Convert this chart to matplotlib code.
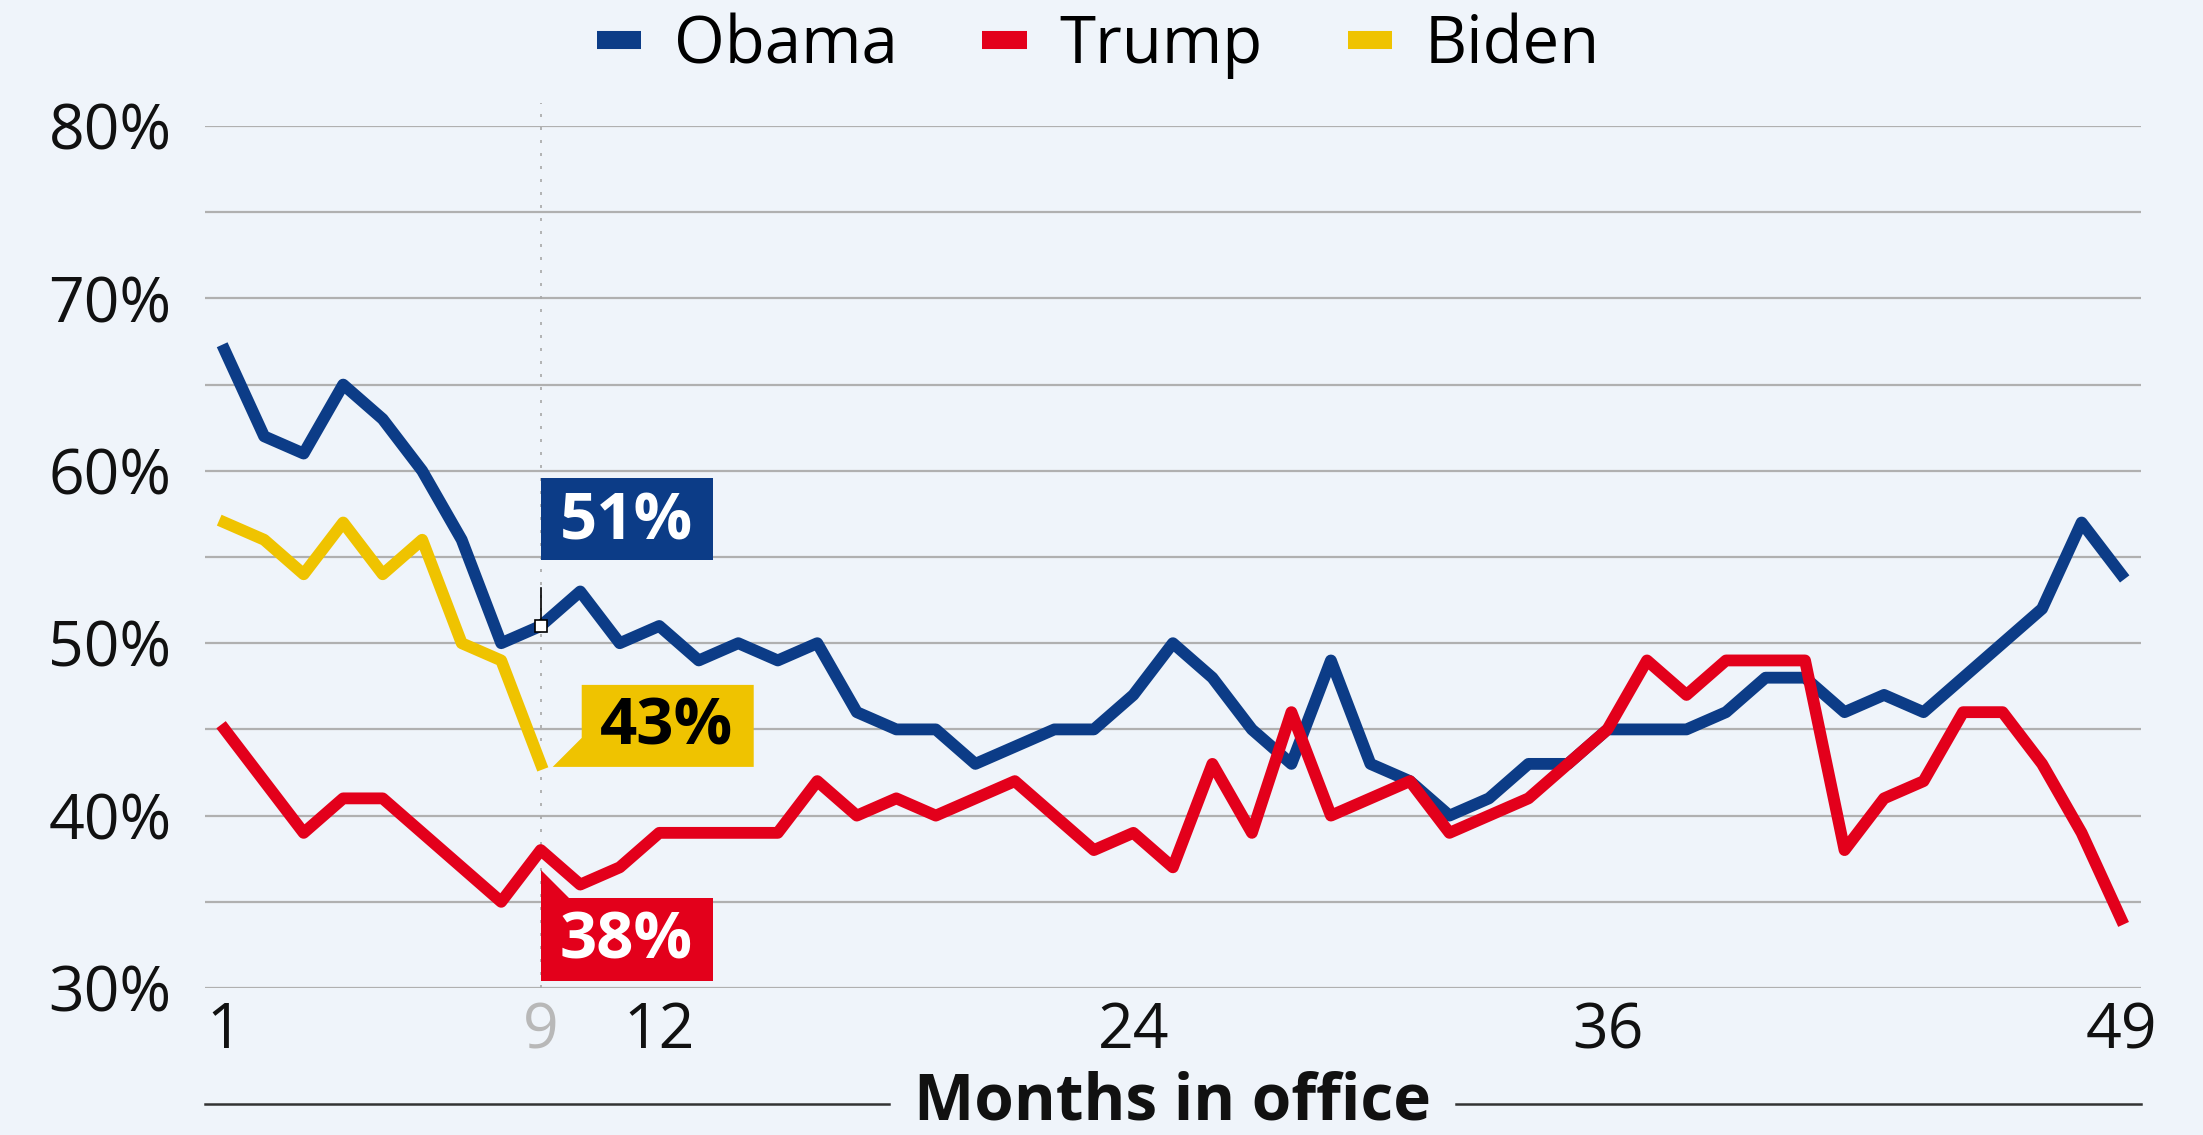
import matplotlib
matplotlib.use("Agg")
import matplotlib.pyplot as plt
import matplotlib.transforms as mtransforms
from matplotlib.patches import Polygon
from matplotlib.lines import Line2D

plt.rcParams['font.family'] = ['Open Sans', 'DejaVu Sans']

# approval ratings by month in office
months = list(range(1, 50))
obama = [67, 62, 61, 65, 63, 60, 56, 50, 51, 53,
         50, 51, 49, 50, 49, 50, 46, 45, 45, 43,
         44, 45, 45, 47, 50, 48, 45, 43, 49, 43,
         42, 40, 41, 43, 43, 45, 45, 45, 46, 48,
         48, 46, 47, 46, 48, 50, 52, 57, 54]
trump = [45, 42, 39, 41, 41, 39, 37, 35, 38, 36,
         37, 39, 39, 39, 39, 42, 40, 41, 40, 41,
         42, 40, 38, 39, 37, 43, 39, 46, 40, 41,
         42, 39, 40, 41, 43, 45, 49, 47, 49, 49,
         49, 38, 41, 42, 46, 46, 43, 39, 34]
biden = [57, 56, 54, 57, 54, 56, 50, 49, 43]
names = ["Obama", "Trump", "Biden"]

xticks = [1, 9, 12, 24, 36, 49]
yticks = [30, 40, 50, 60, 70, 80]
mark_month = 9

BG = '#eff4fa'
BLUE = '#0c3c87'
RED = '#e3001b'
YELLOW = '#efc300'
GRID = '#b0b0b0'

fig = plt.figure(figsize=(22.03, 11.35), dpi=100, facecolor=BG)
ax = fig.add_axes([0.093, 0.1295, 0.8788, 0.7595])
ax.set_facecolor(BG)

lw = 8.5
ax.plot(months, obama, color=BLUE, lw=lw, zorder=3)
ax.plot(months, trump, color=RED, lw=lw, zorder=3)
ax.plot(months[:len(biden)], biden, color=YELLOW, lw=lw, zorder=3)

ax.set_xlim(0.5, 49.5)
ax.set_ylim(30, 80)
ax.set_yticks(yticks)
ax.set_yticklabels([f"{v}%" for v in yticks])
ax.set_yticks(range(35, 80, 10), minor=True)
ax.set_xticks(xticks)
ax.set_xticklabels([str(v) for v in xticks])
ax.grid(axis='y', which='both', color=GRID, lw=1.6)
ax.grid(axis='x', visible=False)
ax.set_axisbelow(True)
ax.tick_params(axis='y', which='both', length=0, pad=24, labelsize=45, labelcolor='#111111')
ax.tick_params(axis='x', length=0, pad=9, labelsize=45, labelcolor='#111111')
ax.xaxis.get_major_ticks()[xticks.index(mark_month)].label1.set_color('#b8b8b8')
for s in ax.spines.values():
    s.set_visible(False)

# dotted marker line for the current month
ax.axvline(mark_month, ymin=0, ymax=1.027, color='#a8a8a8', lw=1.2,
           linestyle=(0, (1.8, 6)), clip_on=False, zorder=1)


def px_trans(x, y):
    # pixel offsets anchored at a data point
    return (mtransforms.Affine2D().scale(1 / fig.dpi) + fig.dpi_scale_trans
            + mtransforms.ScaledTranslation(x, y, ax.transData))


def tag(y, verts, text, face, tcolor, tx, ty):
    tr = px_trans(mark_month, y)
    ax.add_patch(Polygon(verts, closed=True, transform=tr, facecolor=face,
                         edgecolor='none', zorder=6, clip_on=False))
    ax.text(tx, ty, text, transform=tr, ha='center', va='baseline',
            fontsize=47, fontweight='bold', color=tcolor, zorder=7)


i = mark_month - 1
ob, tr_, bi = obama[i], trump[i], biden[i]

# Obama tag with leader line and square marker
ax.add_line(Line2D([0, 0], [0, 38], transform=px_trans(mark_month, ob),
                   color='black', lw=1.2, zorder=6))
ax.plot([mark_month], [ob], marker='s', ms=8, mfc='white', mec='black',
        mew=1.2, zorder=7)
tag(ob, [(0, 38), (0, 148), (172, 148), (172, 66), (30, 66), (0, 66)],
    f"{ob}%", BLUE, 'white', 86, 86)
tag(bi, [(12, -3), (41, 26), (41, 79), (213, 79), (213, -3)],
    f"{bi}%", YELLOW, 'black', 126, 19)
tag(tr_, [(0, -20), (0, -131), (172, -131), (172, -48), (28, -48)],
    f"{tr_}%", RED, 'white', 85, -108)

# legend
handles = [Line2D([], [], color=c, lw=13, solid_capstyle='butt')
           for c in (BLUE, RED, YELLOW)]
fig.legend(handles, names, loc='center', bbox_to_anchor=(0.4985, 1 - 46 / 1135),
           ncol=3, frameon=False, fontsize=47, handlelength=0.68,
           handletextpad=0.5, columnspacing=1.3)

# x axis title with rules on both sides
xlab = fig.text((ax.bbox.x0 + ax.bbox.x1) / 2 / fig.bbox.width, 1 - 1119 / 1135,
                "Months in office", ha='center', va='baseline',
                fontsize=46, fontweight='bold', color='#111111')
renderer = fig.canvas.get_renderer()
bb = xlab.get_window_extent(renderer)
ly = fig.bbox.height * (1 - 1104 / 1135)
gap = 25
for xs in ([ax.bbox.x0, bb.x0 - gap], [bb.x1 + gap, ax.bbox.x1]):
    fig.add_artist(Line2D(xs, [ly, ly], transform=mtransforms.IdentityTransform(),
                          color='#333333', lw=1.8))

fig.savefig("out.png", dpi=100, facecolor=BG)
